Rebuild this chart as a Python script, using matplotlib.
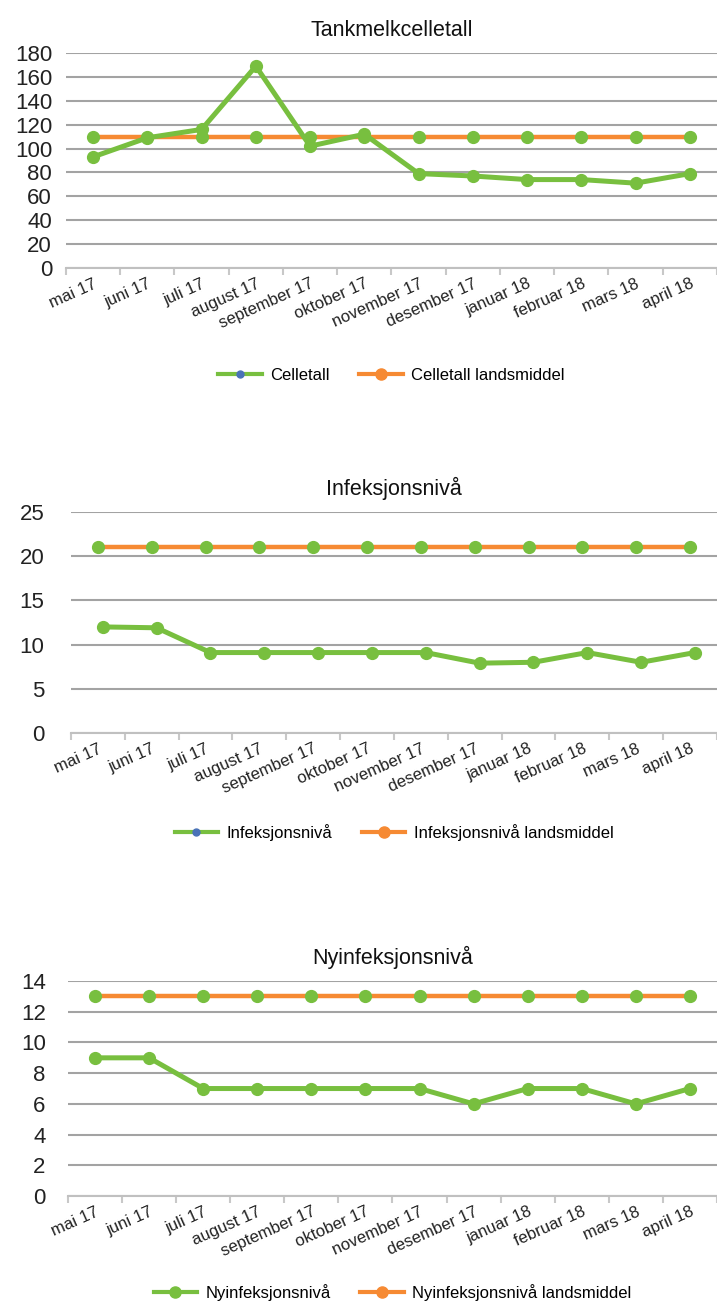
import matplotlib
matplotlib.use("Agg")
import matplotlib.pyplot as plt
import matplotlib.transforms as mtransforms
from matplotlib.lines import Line2D

plt.rcParams['font.family'] = ['Liberation Sans', 'DejaVu Sans']

months = ["mai 17", "juni 17", "juli 17", "august 17", "september 17", "oktober 17",
          "november 17", "desember 17", "januar 18", "februar 18", "mars 18", "april 18"]

celletall = [93, 109, 116, 169, 102, 112, 79, 77, 74, 74, 71, 79]
celletall_land = [110] * 12

infeksjon = [12, 11.9, 9.1, 9.1, 9.1, 9.1, 9.1, 7.9, 8.0, 9.1, 8.0, 9.1]
infeksjon_land = [21] * 12

nyinfeksjon = [9, 9, 7, 7, 7, 7, 7, 6, 7, 7, 6, 7]
nyinfeksjon_land = [13] * 12

GREEN = "#78bf3f"
ORANGE = "#f68a33"
GRID = "#a3a3a3"
BLUE = "#4a72b8"


def draw_panel(ax, title, series, land, ymax, ystep, names, green_shift,
               legend_y, legend_dot, ypad, xshift):
    x = list(range(len(months)))
    ax.plot(x, land, color=ORANGE, lw=3.2, marker="o", ms=8.5,
            mfc=GREEN, mec=GREEN, zorder=3)
    ax.plot([i + green_shift for i in x], series, color=GREEN, lw=3.6, marker="o", ms=8.5,
            mfc=GREEN, mec=GREEN, zorder=4)

    ax.set_xlim(-0.5, len(months) - 0.5)
    ax.set_ylim(0, ymax)
    ax.set_yticks(range(0, ymax + 1, ystep))
    ax.tick_params(axis="y", length=0, labelsize=16, pad=ypad, labelcolor="#222222")
    ax.yaxis.grid(True, color=GRID, lw=1.5)
    ax.set_axisbelow(True)

    # small tick marks sit on the category boundaries, labels in the middle
    ax.set_xticks([i - 0.5 for i in range(len(months) + 1)], minor=False)
    ax.set_xticklabels([])
    ax.set_xticks(x, minor=True)
    labels = ax.set_xticklabels(months, minor=True, rotation=24, ha="right",
                                rotation_mode="anchor", fontsize=12, color="#222222")
    offset = mtransforms.ScaledTranslation(xshift / 72, -2 / 72, ax.figure.dpi_scale_trans)
    for lab in labels:
        lab.set_transform(lab.get_transform() + offset)
    ax.tick_params(axis="x", which="major", length=5, color="#c8c8c8", width=1.5)
    ax.tick_params(axis="x", which="minor", length=0, pad=6)

    for s in ["top", "right", "left"]:
        ax.spines[s].set_visible(False)
    ax.spines["bottom"].set_color("#c0c0c0")
    ax.spines["bottom"].set_linewidth(1.5)

    ax.set_title(title, fontsize=15.5, color="#111111", pad=12)

    h1 = Line2D([], [], color=GREEN, lw=3, marker="o",
                ms=5 if legend_dot else 8, mfc=BLUE if legend_dot else GREEN,
                mec=BLUE if legend_dot else GREEN)
    h2 = Line2D([], [], color=ORANGE, lw=3, marker="o", ms=8, mfc=ORANGE, mec=ORANGE)
    ax.legend([h1, h2], names, loc="center", bbox_to_anchor=(0.5, legend_y),
              ncol=2, frameon=False, fontsize=12, handlelength=2.6,
              columnspacing=1.8, handletextpad=0.5)


fig = plt.figure(figsize=(7.17, 13.02), dpi=100)

ax1 = fig.add_axes([0.092, 0.7942, 0.908, 0.1651])
draw_panel(ax1, "Tankmelkcelletall", celletall, celletall_land, 180, 20,
           ["Celletall", "Celletall landsmiddel"], 0.0, -0.50, True, 10, -5)

ax2 = fig.add_axes([0.099, 0.4370, 0.901, 0.1698])
draw_panel(ax2, "Infeksjonsnivå", infeksjon, infeksjon_land, 25, 5,
           ["Infeksjonsnivå", "Infeksjonsnivå landsmiddel"], 0.09, -0.45, True, 19, -6)

ax3 = fig.add_axes([0.0948, 0.0814, 0.9052, 0.1651])
draw_panel(ax3, "Nyinfeksjonsnivå", nyinfeksjon, nyinfeksjon_land, 14, 2,
           ["Nyinfeksjonsnivå", "Nyinfeksjonsnivå landsmiddel"], 0.0, -0.45, False, 16, -5)

fig.savefig("out.png", dpi=100)
